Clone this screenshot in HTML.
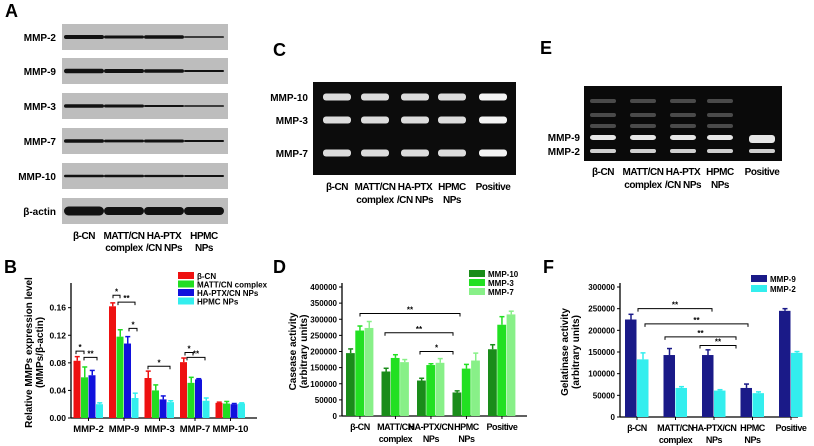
<!DOCTYPE html>
<html><head><meta charset="utf-8">
<style>
html,body{margin:0;padding:0;background:#fff;}
svg{display:block;font-family:"Liberation Sans",Arial,sans-serif;font-weight:bold;}
</style></head>
<body>
<svg id="fig" width="814" height="446" viewBox="0 0 814 446" xmlns="http://www.w3.org/2000/svg">
<g id="pA"></g>
<g id="pC"></g>
<g id="pE"></g>
<g id="pB"></g>
<g id="pD"></g>
<g id="pF"></g>
</svg>
<script>
// ---------- chart data ----------
const bCategories = ["MMP-2","MMP-9","MMP-3","MMP-7","MMP-10"];
const bSeriesNames = ["β-CN","MATT/CN complex","HA-PTX/CN NPs","HPMC NPs"];
const bCN   = [0.083,0.162,0.058,0.081,0.022];
const bMATT = [0.059,0.118,0.040,0.051,0.021];
const bHA   = [0.062,0.108,0.027,0.056,0.020];
const bHPMC = [0.020,0.029,0.023,0.025,0.021];
const bErr  = [[0.006,0.005,0.010,0.006,0.001],[0.015,0.010,0.008,0.008,0.003],[0.007,0.010,0.005,0.001,0.001],[0.002,0.007,0.002,0.004,0.001]];
const bTicks = [0,0.04,0.08,0.12,0.16];

const dCategories = [["β-CN",""],["MATT/CN","complex"],["HA-PTX/CN","NPs"],["HPMC","NPs"],["Positive",""]];
const dSeriesNames = ["MMP-10","MMP-3","MMP-7"];
const dMMP10 = [195000,138000,110000,73000,207000];
const dMMP3  = [265000,180000,158000,147000,283000];
const dMMP7  = [273000,167000,165000,172000,315000];
const dErr   = [[13000,10000,7000,5000,14000],[14000,10000,4000,13000,25000],[20000,8000,13000,23000,10000]];
const dTicks = [0,50000,100000,150000,200000,250000,300000,350000,400000];

const fCategories = dCategories;
const fSeriesNames = ["MMP-9","MMP-2"];
const fMMP9 = [225000,143000,143000,67000,245000];
const fMMP2 = [133000,67000,61000,55000,148000];
const fErr  = [[12000,15000,12000,9000,5000],[15000,3000,2000,3000,3000]];
const fTicks = [0,50000,100000,150000,200000,250000,300000];

const NS="http://www.w3.org/2000/svg";
function mk(parent,tag,attrs,text){const e=document.createElementNS(NS,tag);for(const k in attrs)e.setAttribute(k,attrs[k]);if(text!==undefined)e.textContent=text;parent.appendChild(e);return e;}

// ---------- Panel letters ----------
const root=document.getElementById('fig');
[["A",5,17],["C",273,56],["E",540,54],["B",4,273],["D",273,273],["F",543,273]].forEach(p=>{
  const t=mk(root,'text',{x:p[1],y:p[2],'font-size':18,fill:'#000'},p[0]);
  
  
});

const LS='-0.45';
// ---------- Panel A: western blots ----------
const pA=document.getElementById('pA');
const aRows=[["MMP-2",24,[4,3,3.5,1.5]],["MMP-9",58,[4.5,4,3.5,2]],["MMP-3",93,[3.5,3,2,1.5]],["MMP-7",128,[3.5,2.8,3,2]],["MMP-10",163,[2.5,2.5,2.3,2]],["β-actin",198,[9,8,8,8]]];
const aLanes=[84,124,164,204];
aRows.forEach(r=>{
  const g=mk(pA,'g',{});
  
  
  mk(g,'rect',{x:62,y:r[1],width:166,height:26,fill:'#bdbdbd'});
  mk(g,'text',{x:56,y:r[1]+17,'font-size':10,'text-anchor':'end',fill:'#000'},r[0]);
  r[2].forEach((h,i)=>{mk(g,'rect',{x:aLanes[i]-20,y:r[1]+13-h/2,width:40,height:h,rx:h/2,fill:'#111'});});
});
[["β-CN",""],["MATT/CN","complex"],["HA-PTX","/CN NPs"],["HPMC","NPs"]].forEach((l,i)=>{
  mk(pA,'text',{x:aLanes[i],y:239,'font-size':10,'text-anchor':'middle','letter-spacing':LS},l[0]);
  mk(pA,'text',{x:aLanes[i],y:251,'font-size':10,'text-anchor':'middle','letter-spacing':LS},l[1]);
});

// ---------- Panel C ----------
const pC=document.getElementById('pC');
mk(pC,'rect',{x:313,y:82,width:203,height:93,fill:'#0c0c0c'});
const cLanes=[337,375,415,452,493];
[["MMP-10",97],["MMP-3",120],["MMP-7",153]].forEach(r=>{
  mk(pC,'text',{x:308,y:r[1]+4,'font-size':10,'text-anchor':'end'},r[0]);
  cLanes.forEach((x,i)=>{mk(pC,'rect',{x:x-14,y:r[1]-3.5,width:28,height:7,rx:3,fill:i==4?'#f4f4f4':'#dcdcdc'});});
});
[["β-CN",""],["MATT/CN","complex"],["HA-PTX","/CN NPs"],["HPMC","NPs"],["Positive",""]].forEach((l,i)=>{
  mk(pC,'text',{x:cLanes[i],y:190,'font-size':10,'text-anchor':'middle','letter-spacing':LS},l[0]);
  mk(pC,'text',{x:cLanes[i],y:203,'font-size':10,'text-anchor':'middle','letter-spacing':LS},l[1]);
});

// ---------- Panel E ----------
const pE=document.getElementById('pE');
mk(pE,'rect',{x:584,y:86,width:198,height:75,fill:'#0a0a0a'});
const eLanes=[603,643,683,720,762];
eLanes.forEach((x,i)=>{
  if(i<4){[101,115,126].forEach(y=>mk(pE,'rect',{x:x-13,y:y-2,width:26,height:4,rx:2,fill:'#4a4a4a'}));}
  mk(pE,'rect',{x:x-13,y:135,width:26,height:i==4?8:5,rx:3,fill:'#e6e6e6'});
  mk(pE,'rect',{x:x-13,y:149,width:26,height:4,rx:2,fill:'#cfcfcf'});
});
mk(pE,'text',{x:580,y:141,'font-size':10,'text-anchor':'end'},"MMP-9");
mk(pE,'text',{x:580,y:155,'font-size':10,'text-anchor':'end'},"MMP-2");
[["β-CN",""],["MATT/CN","complex"],["HA-PTX","/CN NPs"],["HPMC","NPs"],["Positive",""]].forEach((l,i)=>{
  mk(pE,'text',{x:eLanes[i],y:175,'font-size':10,'text-anchor':'middle','letter-spacing':LS},l[0]);
  mk(pE,'text',{x:eLanes[i],y:188,'font-size':10,'text-anchor':'middle','letter-spacing':LS},l[1]);
});

// ---------- generic bar chart ----------
function barChart(g,o){
  const y=v=>o.y0-(v/o.ymax)*(o.y0-o.ytop);
  mk(g,'line',{x1:o.x0,y1:o.ytop-4,x2:o.x0,y2:o.y0,stroke:'#000','stroke-width':1.3});
  mk(g,'line',{x1:o.x0,y1:o.y0,x2:o.xend,y2:o.y0,stroke:'#000','stroke-width':1.3});
  o.ticks.forEach(t=>{
    mk(g,'line',{x1:o.x0-3,y1:y(t),x2:o.x0,y2:y(t),stroke:'#000'});
    mk(g,'text',{x:o.x0-5,y:y(t)+3,'font-size':o.fs,'text-anchor':'end'},o.fmt(t));
  });
  o.series.forEach((s,si)=>{
    s.forEach((v,ci)=>{
      const bx=o.gx(ci)+si*o.bw;
      const r=mk(g,'rect',{x:bx,y:y(v),width:o.bw-0.5,height:o.y0-y(v),fill:o.colors[si]});
      
      
      const e=o.err[si][ci],cx=bx+o.bw/2;
      mk(g,'line',{x1:cx,y1:y(v),x2:cx,y2:y(v+e),stroke:o.colors[si],'stroke-width':1.5});
      mk(g,'line',{x1:cx-2.5,y1:y(v+e),x2:cx+2.5,y2:y(v+e),stroke:o.colors[si],'stroke-width':1.5});
    });
  });
  o.cats.forEach((c,ci)=>{
    const cx=o.gx(ci)+o.bw*o.series.length/2;
    const lab=Array.isArray(c)?c:[c,""];
    mk(g,'line',{x1:cx,y1:o.y0,x2:cx,y2:o.y0+3,stroke:'#000'});
    mk(g,'text',{x:cx,y:o.y0+14,'font-size':o.cfs,'text-anchor':'middle','letter-spacing':o.cls},lab[0]);
    if(lab[1])mk(g,'text',{x:cx,y:o.y0+26,'font-size':o.cfs,'text-anchor':'middle','letter-spacing':o.cls},lab[1]);
  });
  const lg=mk(g,'g',{});
  
  
  o.names.forEach((n,i)=>{
    mk(lg,'rect',{x:o.lx,y:o.ly+i*o.lstep-4,width:16,height:7,fill:o.colors[i]});
    mk(lg,'text',{x:o.lx+19,y:o.ly+i*o.lstep+3,'font-size':8},n);
  });
  const ty=(o.ytop+o.y0)/2;
  const t=mk(g,'text',{transform:`translate(${o.tx},${ty}) rotate(-90)`,'font-size':10,'text-anchor':'middle'});
  mk(t,'tspan',{x:0,dy:0},o.title[0]);mk(t,'tspan',{x:0,dy:11},o.title[1]);
  
  
  (o.brackets||[]).forEach(b=>{
    const yy=y(b[2]);
    mk(g,'path',{d:`M${b[0]},${yy+3}V${yy}H${b[1]}V${yy+3}`,stroke:'#000',fill:'none','stroke-width':1});
    mk(g,'text',{x:(b[0]+b[1])/2,y:yy-1,'font-size':8,'text-anchor':'middle'},b[3]);
  });
  return y;
}

barChart(document.getElementById('pB'),{id:'b',x0:71,xend:257,y0:418,ytop:287,ymax:0.19,ticks:bTicks,fmt:t=>t.toFixed(2),fs:8.5,cfs:9.5,cls:'0',
  series:[bCN,bMATT,bHA,bHPMC],err:bErr,colors:['#ee1111','#22dd22','#1111dd','#33eeee'],bw:7.5,gx:i=>73.5+i*35.5,cats:bCategories,
  names:bSeriesNames,lx:178,ly:276,lstep:8.5,tx:32,title:["Relative MMPs expression level","(MMPs/β-actin)"],
  brackets:[[76,84,0.097,"*"],[84,97,0.088,"**"],[113,120,0.178,"*"],[118,135,0.168,"**"],[129,137,0.13,"*"],[148,170,0.075,"*"],[185,193,0.095,"*"],[187,205,0.088,"**"]]});

barChart(document.getElementById('pD'),{id:'d',x0:342,xend:527,y0:416,ytop:287,ymax:400000,ticks:dTicks,fmt:t=>String(t),fs:8,cfs:9,cls:LS,
  series:[dMMP10,dMMP3,dMMP7],err:dErr,colors:['#1a8c1a','#22e022','#88f088'],bw:9.3,gx:i=>346+i*35.5,cats:dCategories,
  names:dSeriesNames,lx:469,ly:274,lstep:9,tx:296,title:["Casease activity","(arbitrary units)"],
  brackets:[[360,460,318000,"**"],[385,453,258000,"**"],[420,453,200000,"*"]]});

barChart(document.getElementById('pF'),{id:'f',x0:620,xend:798,y0:417,ytop:287,ymax:300000,ticks:fTicks,fmt:t=>String(t),fs:8,cfs:9,cls:LS,
  series:[fMMP9,fMMP2],err:fErr,colors:['#1a1a88','#33eeee'],bw:12,gx:i=>625+i*38.5,cats:fCategories,
  names:fSeriesNames,lx:751,ly:279,lstep:10,tx:568,title:["Gelatinase activity","(arbitrary units)"],
  brackets:[[638,712,250000,"**"],[645,748,215000,"**"],[665,736,185000,"**"],[700,736,165000,"**"]]});
</script>
</body></html>
